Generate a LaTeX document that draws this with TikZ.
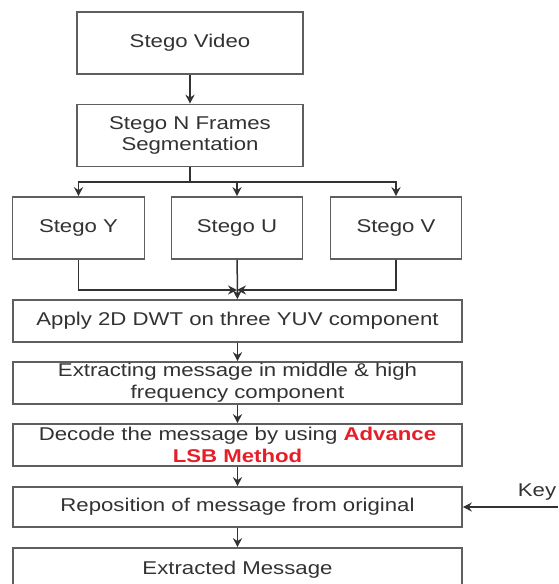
\documentclass[tikz,border=0pt]{standalone}
\usepackage{fontspec}
\setmainfont{Liberation Sans}[FakeStretch=1.2]
\usepackage{xcolor}
\usetikzlibrary{arrows.meta,positioning}
\definecolor{Ink}{RGB}{50,50,50}
\definecolor{Edge}{RGB}{95,95,95}
\definecolor{LsbRed}{RGB}{230,30,40}
\tikzset{
	box/.style={draw=Edge, line width=1.6pt, text=Ink, align=center, inner sep=0pt, font=\fontsize{18.5}{21.7}\selectfont},
	tall/.style={box, minimum height=62pt},
	wide/.style={box, minimum width=449pt, minimum height=42pt},
	link/.style={draw=Ink, line width=1.5pt},
	arr/.style={link, -{Stealth[length=9pt,width=9pt]}},
}

\begin{document}
\begin{tikzpicture}[x=1pt,y=-1pt]
\useasboundingbox (0,0) rectangle (558,584);

\node[tall, minimum width=226pt] (video) at (190,43) {Stego Video};
\node[tall, minimum width=226pt] (frames) at (190,135.5) {Stego N Frames\\Segmentation};

\node[tall, minimum width=132pt] (sy) at (78.5,228) {Stego Y};
\node[tall, minimum width=131pt] (su) at (237,228) {Stego U};
\node[tall, minimum width=131pt] (sv) at (396,228) {Stego V};

\node[wide] (dwt) at (237.5,321) {Apply 2D DWT on three YUV component};
\node[wide] (extract) at (237.5,383) {Extracting message in middle \& high\\frequency component};
\node[wide] (decode) at (237.5,445) {Decode the message by using \textcolor{LsbRed}{\textbf{Advance}}\\\textcolor{LsbRed}{\textbf{LSB Method}}};
\node[wide, minimum height=40pt] (repos) at (237.5,507) {Reposition of message from original};
\node[wide, minimum height=44pt] (outmsg) at (237.5,570) {Extracted Message};

\node[box, draw=none] (key) at (537,492) {Key};
\coordinate (keyin) at (558,507);
\coordinate (split) at (190,182);
\coordinate (merge) at (237,290);

% split into the three components
\draw[arr] (video) -- (frames);
\draw[link] (frames) -- (split);
\draw[arr] (split) -| (sy);
\draw[arr] (split) -| (su);
\draw[arr] (split) -| (sv);

% join them again
\draw[arr] (sy) |- (merge);
\draw[arr] (sv) |- (merge);
\draw[arr] (su) -- (dwt);

\draw[arr] (dwt) -- (extract);
\draw[arr] (extract) -- (decode);
\draw[arr] (decode) -- (repos);
\draw[arr] (repos) -- (outmsg);
\draw[arr] (keyin) -- (repos);
\end{tikzpicture}
\end{document}
